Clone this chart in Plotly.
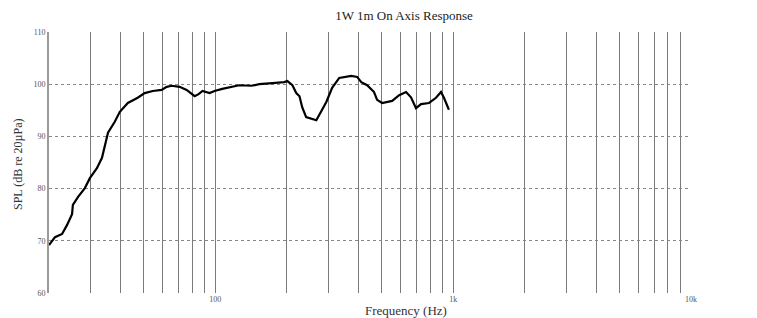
import plotly.graph_objects as go

# Frequency response data
freq_hz = [20, 21.2, 22.7, 23.8, 25.0, 25.2, 26.5, 28.3, 29.7, 31.8, 33.4, 35.4, 37.8, 39.7,
           42.9, 47.2, 50.5, 54.6, 59.5, 62.5, 65.6, 70.8, 75.8, 81.9, 85.1, 88.4, 94.6,
           99.3, 107, 118, 126, 142, 153, 174, 195, 201, 211, 219, 226, 232, 241, 266,
           293, 310, 332, 373, 395, 411, 435, 465, 479, 503, 554, 593, 634, 665, 698,
           733, 792, 847, 889, 915, 960]
spl_db = [69.2, 70.7, 71.3, 73.0, 75.1, 76.9, 78.4, 80.1, 82.0, 83.9, 85.9, 90.7, 92.8, 94.7,
          96.4, 97.4, 98.3, 98.7, 98.9, 99.5, 99.7, 99.5, 98.9, 97.7, 98.1, 98.7, 98.3,
          98.7, 99.1, 99.5, 99.8, 99.7, 100.0, 100.2, 100.4, 100.6, 99.8, 98.3, 97.7, 95.6,
          93.7, 93.1, 96.6, 99.3, 101.2, 101.6, 101.4, 100.4, 99.8, 98.5, 97.0, 96.4, 96.8,
          97.9, 98.5, 97.5, 95.4, 96.2, 96.4, 97.4, 98.5, 97.4, 95.1]

x_grid = [30, 40, 50, 60, 70, 80, 90, 100, 200, 300, 400, 500, 600, 700, 800, 900,
          1000, 2000, 3000, 4000, 5000, 6000, 7000, 8000, 9000, 10000]
x_labels = {100: "100", 1000: "1k", 10000: "10k"}
y_ticks = [60, 70, 80, 90, 100, 110]

title_text = "1W 1m On Axis Response"
x_title = "Frequency (Hz)"
y_title = "SPL (dB re 20µPa)"

serif = "Liberation Serif, Times New Roman, serif"

fig = go.Figure()
fig.add_trace(go.Scatter(
    x=freq_hz, y=spl_db, mode="lines",
    line=dict(color="black", width=2.2),
    showlegend=False, hoverinfo="x+y",
))

fig.update_layout(
    width=757, height=318,
    margin=dict(l=49, r=66, t=32, b=25),
    paper_bgcolor="white", plot_bgcolor="white",
    font=dict(family=serif, color="#222"),
    title=dict(text=title_text, x=404 / 757, xanchor="center",
               y=1 - 15 / 318, yanchor="middle", xref="container", yref="container",
               font=dict(family=serif, size=13, color="#222")),
    xaxis=dict(
        type="log", range=[1.30103, 4.0],
        tickvals=x_grid,
        ticktext=[x_labels.get(v, "") for v in x_grid],
        showgrid=True, gridcolor="#7a7a7a", gridwidth=1,
        zeroline=False, showline=False, ticks="",
        tickfont=dict(family=serif, size=8, color="#555"),
    ),
    yaxis=dict(
        range=[60, 110], tickvals=y_ticks,
        showgrid=True, gridcolor="#888888", gridwidth=1, griddash="dot",
        zeroline=False, showline=True, linecolor="#9a9a9a", linewidth=2,
        ticks="", tickfont=dict(family=serif, size=8, color="#555"),
    ),
    annotations=[
        dict(text=x_title, xref="paper", yref="paper", x=(406 - 49) / 642,
             y=(293 - 310) / 261, xanchor="center", yanchor="middle",
             showarrow=False, font=dict(family=serif, size=13, color="#333")),
        dict(text=y_title, xref="paper", yref="paper", x=(18 - 49) / 642,
             y=(293 - 165) / 261, xanchor="center", yanchor="middle", textangle=-90,
             showarrow=False, font=dict(family=serif, size=12, color="#333")),
    ],
)

fig.write_html("out.html", config={"displayModeBar": False},
               post_script="document.body.style.margin='0';")
